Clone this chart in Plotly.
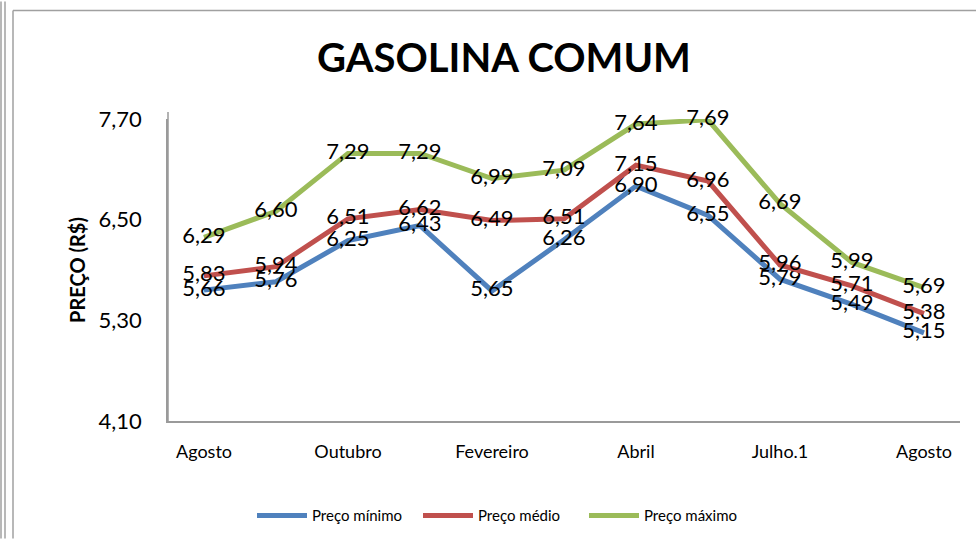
import plotly.graph_objects as go

categorias = ["Agosto", "Setembro", "Outubro", "Novembro", "Fevereiro", "Março",
              "Abril", "Maio", "Julho.1", "Julho.2", "Agosto "]
rotulos_eixo = ["Agosto", "Outubro", "Fevereiro", "Abril", "Julho.1", "Agosto"]
preco_minimo = [5.66, 5.76, 6.25, 6.43, 5.65, 6.26, 6.90, 6.55, 5.79, 5.49, 5.15]
preco_medio = [5.83, 5.94, 6.51, 6.62, 6.49, 6.51, 7.15, 6.96, 5.96, 5.71, 5.38]
preco_maximo = [6.29, 6.60, 7.29, 7.29, 6.99, 7.09, 7.64, 7.69, 6.69, 5.99, 5.69]
ticks_y = [4.10, 5.30, 6.50, 7.70]

FONT = "Lato, 'Open Sans', sans-serif"
L, R, T, B = 168, 16, 119, 119
W, H = 976, 544
pw, ph = W - L - R, H - T - B

def px(x):
    return (x - L) / pw

def py(y):
    return (H - B - y) / ph

series = [
    ("Preço mínimo", preco_minimo, "#4F81BD"),
    ("Preço médio", preco_medio, "#C0504D"),
    ("Preço máximo", preco_maximo, "#9BBB59"),
]

fig = go.Figure()
for nome, vals, cor in series:
    fig.add_trace(go.Scatter(
        x=categorias, y=vals, name=nome, mode="lines+text",
        line=dict(color=cor, width=5),
        texttemplate="%{y:.2f}", textposition="middle center",
        textfont=dict(family=FONT, size=22, color="#000000"),
        cliponaxis=False,
    ))

shapes = [
    dict(type="line", xref="paper", yref="paper", x0=px(1), x1=px(1), y0=py(0), y1=py(H), line=dict(color="#a0a0a0", width=1.5)),
    dict(type="line", xref="paper", yref="paper", x0=px(5), x1=px(5), y0=py(0), y1=py(H), line=dict(color="#a0a0a0", width=1.5)),
    dict(type="line", xref="paper", yref="paper", x0=px(13), x1=px(13), y0=py(9), y1=py(H), line=dict(color="#a0a0a0", width=1.5)),
    dict(type="line", xref="paper", yref="paper", x0=px(13), x1=px(W), y0=py(9), y1=py(9), line=dict(color="#a0a0a0", width=1.5)),
    dict(type="line", xref="paper", yref="paper", x0=0, x1=0, y0=0, y1=py(112), line=dict(color="#9a9a9a", width=1.5)),
]

fig.update_layout(
    width=W, height=H,
    margin=dict(l=L, r=R, t=T, b=B),
    paper_bgcolor="white", plot_bgcolor="white",
    separators=",.",
    title=dict(text="<b>GASOLINA COMUM</b>", x=504 / W, xanchor="center",
               y=1 - 58 / H, yanchor="middle",
               font=dict(family=FONT, size=40, color="#000000")),
    xaxis=dict(
        type="category", categoryorder="array", categoryarray=categorias,
        range=[-0.5, len(categorias) - 0.5],
        tickvals=categorias[::2], ticktext=rotulos_eixo,
        showline=True, linecolor="#9a9a9a", linewidth=1.5,
        showgrid=False, ticks="", tickfont=dict(family=FONT, size=18, color="#000000"),
        ticklabelstandoff=14,
    ),
    yaxis=dict(
        range=[4.10, 7.70], tickvals=ticks_y, tickformat=".2f",
        showline=True, linecolor="#9a9a9a", linewidth=1.5,
        showgrid=False, ticks="", zeroline=False,
        tickfont=dict(family=FONT, size=22, color="#000000"),
        ticklabelstandoff=20,
        title=dict(text="<b>PREÇO (R$)</b>", standoff=8,
                   font=dict(family=FONT, size=20, color="#000000")),
    ),
    legend=dict(orientation="h", x=(252 - L) / pw, xanchor="left",
                y=-(521 - (H - B)) / ph,
                yanchor="middle", font=dict(family=FONT, size=15, color="#000000"),
                itemwidth=50, entrywidth=101, traceorder="normal"),
    shapes=shapes,
    showlegend=True,
)

fig.write_html("out.html", config={"displayModeBar": False},
               post_script="document.body.style.margin='0';")
